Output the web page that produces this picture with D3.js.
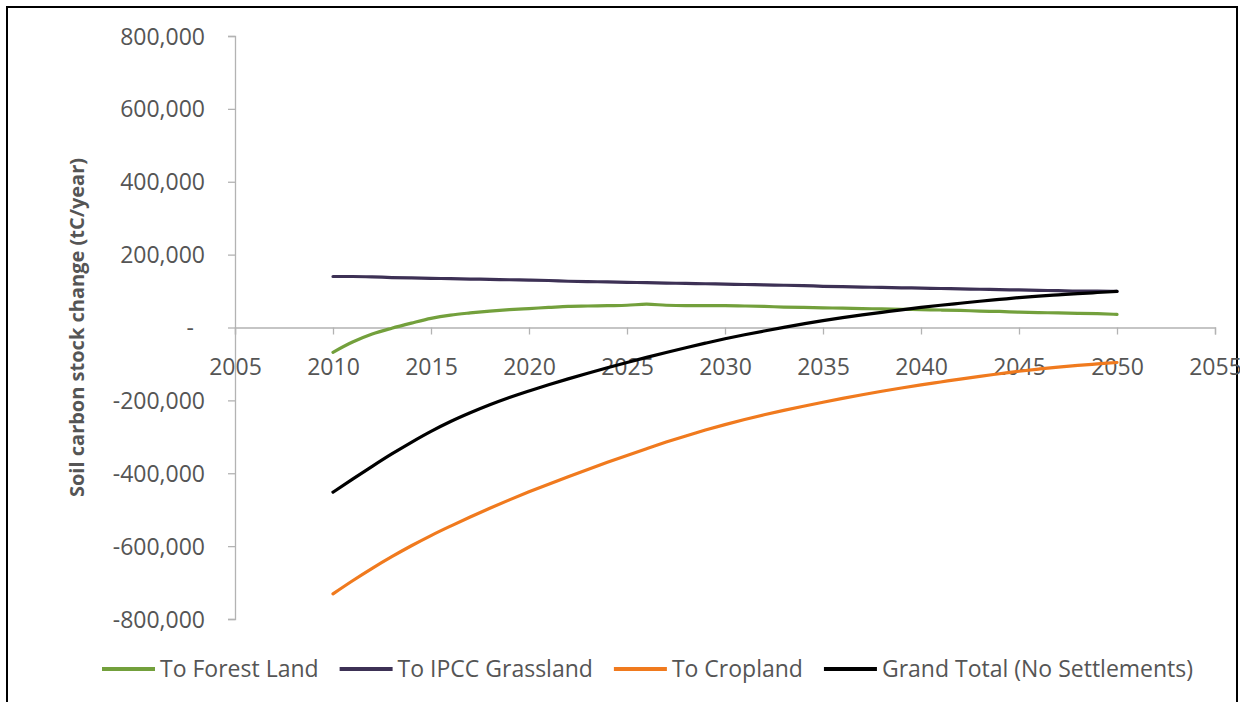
<!DOCTYPE html>
<html>
<head>
<meta charset="utf-8">
<script src="https://cdn.jsdelivr.net/npm/d3@7/dist/d3.min.js"></script>
<style>
  html, body { margin: 0; padding: 0; background: #ffffff; }
  svg { display: block; }
  text { font-family: "Open Sans", "Noto Sans", sans-serif; fill: #555555; }
</style>
</head>
<body>
<svg id="chart" width="1240" height="702"></svg>
<script>
// ---------------- data ----------------
const years = d3.range(2010, 2051);

const forestLand = [
  -68000, -40000, -18000, -2000, 12000, 25000, 34000, 40000, 45000, 49000,
  52000, 55000, 58000, 59000, 60000, 61000, 64000, 61000, 60000, 60000,
  60000, 59000, 58000, 56000, 55000, 54000, 53000, 52000, 51000, 50000,
  49000, 48000, 47000, 45000, 44000, 42000, 41000, 40000, 39000, 38000, 36000
];

const ipccGrassland = [
  140000, 140000, 139000, 137000, 136000, 135000, 134000, 133000, 132000, 131000,
  130000, 129000, 127000, 126000, 125000, 124000, 123000, 122000, 121000, 120000,
  119000, 118000, 117000, 116000, 115000, 113000, 112000, 111000, 110000, 109000,
  108000, 107000, 106000, 105000, 104000, 103000, 102000, 101000, 100000, 100000, 99000
];

const cropland = [
  -731000, -695000, -661000, -629000, -599000, -571000, -545000, -520000, -496000, -473000,
  -451000, -430000, -409500, -389500, -370000, -351000, -332500, -314500, -297500, -281500,
  -266500, -252500, -239500, -227500, -216000, -205000, -194500, -184500, -175000, -166000,
  -157500, -149500, -141500, -134000, -127000, -120000, -114000, -108500, -104000, -100000, -96000
];

const grandTotal = [
  -452000, -416000, -381000, -347000, -315000, -285000, -258000, -234000, -212000, -192000,
  -174000, -157000, -141000, -125500, -110500, -96000, -82000, -68500, -55500, -43000,
  -31000, -20000, -9500, 500, 10000, 19000, 27000, 34500, 41500, 48500,
  55000, 61000, 66500, 72000, 77000, 82000, 86000, 89500, 93000, 96000, 99000
];

const seriesNames = ["To Forest Land", "To IPCC Grassland", "To Cropland", "Grand Total (No Settlements)"];
const seriesValues = [forestLand, ipccGrassland, cropland, grandTotal];
const seriesColors = ["#73a03c", "#3d3155", "#f07a1e", "#000000"];

const xTicks = d3.range(2005, 2056, 5);
const yTicks = d3.range(-800000, 800001, 200000);
const yTitle = "Soil carbon stock change (tC/year)";

// ---------------- layout ----------------
const svg = d3.select("#chart");

// outer frame
svg.append("rect")
  .attr("x", 7).attr("y", 7).attr("width", 1230).attr("height", 720)
  .attr("fill", "none").attr("stroke", "#000").attr("stroke-width", 2);

const x = d3.scaleLinear().domain([2005, 2055]).range([235, 1215]);
const y = d3.scaleLinear().domain([-800000, 800000]).range([619, 36]);

const fmtY = v => v === 0 ? "-" : (v < 0 ? "-" : "") + d3.format(",")(Math.abs(v));

// y axis
const gy = svg.append("g").attr("transform", `translate(${x(2005)},0)`)
  .call(d3.axisLeft(y).tickValues(yTicks).tickFormat(fmtY).tickSize(7).tickPadding(23));
gy.select(".domain").attr("stroke", "#b3b3b3").attr("stroke-width", 1.3);
gy.selectAll(".tick line").attr("stroke", "#b3b3b3").attr("stroke-width", 1.3);
gy.selectAll(".tick text")
  .style("font-size", "23px").attr("fill", "#555555")
  .attr("dy", "0.35em")
  .attr("dx", d => d === 0 ? -11 : 0);

// x axis at zero
const gx = svg.append("g").attr("transform", `translate(0,${y(0)})`)
  .call(d3.axisBottom(x).tickValues(xTicks).tickFormat(d3.format("d")).tickSize(7).tickPadding(24));
gx.select(".domain").attr("stroke", "#b3b3b3").attr("stroke-width", 1.3);
gx.selectAll(".tick line").attr("stroke", "#b3b3b3").attr("stroke-width", 1.3);
gx.selectAll(".tick text").style("font-size", "23px").attr("fill", "#555555");

// y title
svg.append("text")
  .attr("transform", `translate(77,${y(0)}) rotate(-90)`)
  .attr("text-anchor", "middle")
  .attr("dy", "0.35em")
  .style("font-size", "20px").style("font-weight", "bold")
  .attr("fill", "#303030")
  .text(yTitle);

// lines
const line = d3.line()
  .x((d, i) => x(years[i]))
  .y(d => y(d))
  .curve(d3.curveMonotoneX);

seriesValues.forEach((vals, i) => {
  svg.append("path")
    .datum(vals)
    .attr("fill", "none")
    .attr("stroke", seriesColors[i])
    .attr("stroke-width", 3.2)
    .attr("stroke-linejoin", "round")
    .attr("stroke-linecap", "round")
    .attr("d", line);
});

// legend
const legend = svg.append("g").attr("transform", "translate(102,669)");
let cx = 0;
seriesNames.forEach((name, i) => {
  const g = legend.append("g").attr("transform", `translate(${cx},0)`);
  g.append("line").attr("x1", 0).attr("x2", 53).attr("y1", 0).attr("y2", 0)
    .attr("stroke", seriesColors[i]).attr("stroke-width", 4);
  const t = g.append("text").attr("x", 58).attr("dy", "0.35em")
    .style("font-size", "23px").attr("fill", "#555555").text(name);
  cx += 58 + t.node().getComputedTextLength() + 21;
});
</script>
</body>
</html>
